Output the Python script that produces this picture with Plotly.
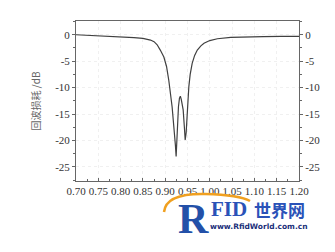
import plotly.graph_objects as go

freq = [0.70, 0.73, 0.76, 0.80, 0.83, 0.85, 0.867, 0.875, 0.882, 0.889, 0.897, 0.903,
        0.908, 0.9155, 0.920, 0.923, 0.9245, 0.926, 0.928, 0.9297, 0.932, 0.934, 0.936,
        0.9403, 0.943, 0.9448, 0.947, 0.949, 0.951, 0.953, 0.956, 0.9605, 0.966, 0.972,
        0.980, 0.987, 1.00, 1.017, 1.047, 1.08, 1.12, 1.16, 1.20]
return_loss = [0.0, -0.1, -0.25, -0.45, -0.55, -0.7, -1.0, -1.3, -1.9, -2.9, -4.2, -6.0,
               -8.6, -13.6, -17.5, -21.0, -23.0, -20.0, -15.5, -13.6, -12.0, -11.6, -12.2,
               -14.2, -17.5, -19.9, -18.5, -15.5, -12.5, -9.8, -7.5, -5.4, -3.9, -2.9,
               -2.1, -1.6, -1.1, -0.75, -0.5, -0.4, -0.35, -0.3, -0.3]

x_ticks = [0.70, 0.75, 0.80, 0.85, 0.90, 0.95, 1.00, 1.05, 1.10, 1.15, 1.20]
x_labels = ["%.2f" % v for v in x_ticks]
y_ticks = [0, -5, -10, -15, -20, -25]
y_labels = [str(v) for v in y_ticks]
y_title = "回波损耗 /dB"

AX = "#666666"
TXT = "#333333"
FONT = "Liberation Serif, Times New Roman, serif"
yr = [-27.65, 2.6]

fig = go.Figure()
fig.add_trace(go.Scatter(x=freq, y=return_loss, mode="lines",
                         line=dict(color="#404040", width=1.2),
                         showlegend=False, hoverinfo="skip"))
fig.add_trace(go.Scatter(x=freq, y=return_loss, mode="lines", yaxis="y2",
                         line=dict(color="rgba(0,0,0,0)", width=0),
                         showlegend=False, hoverinfo="skip"))

fig.update_layout(
    width=335, height=252,
    margin=dict(l=76, r=36, t=21, b=71),
    paper_bgcolor="white", plot_bgcolor="white",
    font=dict(family=FONT, size=11, color=TXT),
    xaxis=dict(range=[0.70, 1.20], tickvals=x_ticks, ticktext=x_labels,
               ticks="inside", ticklen=3, tickcolor=AX, tickwidth=1,
               minor=dict(ticks="inside", ticklen=2, dtick=0.025, tickcolor=AX),
               showline=True, linecolor=AX, linewidth=1, mirror=True,
               showgrid=True, gridcolor="#f0f0f0", griddash="dot", zeroline=False,
               tickfont=dict(family=FONT, size=11, color=TXT)),
    yaxis=dict(range=yr, tickvals=y_ticks, ticktext=y_labels,
               ticks="outside", ticklen=3, tickcolor=AX,
               minor=dict(ticks="outside", ticklen=2, dtick=2.5, tickcolor=AX),
               showline=True, linecolor=AX, linewidth=1,
               showgrid=True, gridcolor="#f0f0f0", griddash="dot", zeroline=False,
               tickfont=dict(family=FONT, size=11, color=TXT),
               title=dict(text=y_title, standoff=12,
                          font=dict(family="Noto Sans CJK SC", size=10, color="#666666"))),
    yaxis2=dict(range=yr, tickvals=y_ticks, ticktext=y_labels, overlaying="y",
                side="right", ticks="outside", ticklen=3, tickcolor=AX,
                minor=dict(ticks="outside", ticklen=2, dtick=2.5, tickcolor=AX),
                showline=True, linecolor=AX, linewidth=1, showgrid=False, zeroline=False,
                tickfont=dict(family=FONT, size=11, color=TXT)),
)

def px(x):
    return (x - 76) / 223.0

def py(y):
    return (181 - y) / 160.0

def wm(x, y, text, family, size, color):
    fig.add_annotation(xref="paper", yref="paper", x=px(x), y=py(y), text=text,
                       xanchor="center", yanchor="middle", showarrow=False,
                       font=dict(family=family, size=size, color=color))

# watermark arc
fig.add_shape(type="path", xref="paper", yref="paper",
              path="M %f,%f Q %f,%f %f,%f Q %f,%f %f,%f" % (
                  px(164), py(212), px(166), py(193), px(205), py(194),
                  px(240), py(195), px(250), py(201)),
              line=dict(color="#f0a020", width=2.5))
wm(193, 219, "<b>R</b>", "Liberation Serif", 42, "#2350a8")
wm(229, 209, "<b>FID</b>", "Liberation Serif", 21, "#2a52b8")
wm(279, 209, "<b>世界网</b>", "Noto Sans CJK SC", 17, "#2a52b8")
wm(259, 226, "<b>www.RfidWorld.com.cn</b>", "DejaVu Sans", 7.5, "#1b2f7a")

fig.write_html("out.html")
